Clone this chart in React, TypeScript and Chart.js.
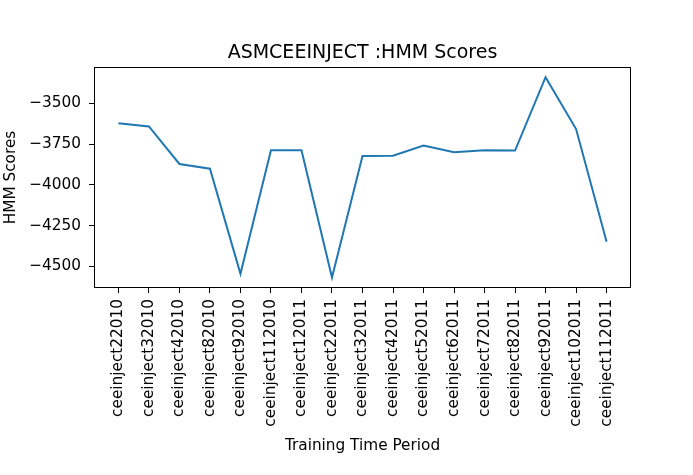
import React, { useEffect, useRef } from "react";
import { Chart, registerables } from "chart.js";

Chart.register(...registerables);

const categories = [
  "ceeinject22010", "ceeinject32010", "ceeinject42010", "ceeinject82010", "ceeinject92010",
  "ceeinject112010", "ceeinject12011", "ceeinject22011", "ceeinject32011", "ceeinject42011",
  "ceeinject52011", "ceeinject62011", "ceeinject72011", "ceeinject82011", "ceeinject92011",
  "ceeinject102011", "ceeinject112011",
];
const scores = [
  -3623, -3642, -3872, -3901, -4545, -3788, -3788, -4568, -3823, -3821,
  -3759, -3800, -3788, -3790, -3340, -3658, -4348,
];
const yTicks = [-4500, -4250, -4000, -3750, -3500];
const titleText = "ASMCEEINJECT :HMM Scores";
const xTitle = "Training Time Period";
const yTitle = "HMM Scores";

const FONT = "'DejaVu Sans', sans-serif";

const framePlugin = {
  id: "frame",
  afterDatasetsDraw(chart: any) {
    const { ctx, chartArea } = chart;
    ctx.save();
    ctx.strokeStyle = "#000";
    ctx.lineWidth = 1;
    ctx.strokeRect(
      Math.round(chartArea.left) + 0.5,
      Math.round(chartArea.top) + 0.5,
      Math.round(chartArea.right - chartArea.left) - 1,
      Math.round(chartArea.bottom - chartArea.top) - 1
    );
    ctx.restore();
  },
};

const axesTitlePlugin = {
  id: "axesTitle",
  afterDraw(chart: any) {
    const { ctx, chartArea } = chart;
    ctx.save();
    ctx.fillStyle = "#000";
    ctx.font = `19px ${FONT}`;
    ctx.textAlign = "center";
    ctx.textBaseline = "alphabetic";
    ctx.fillText(titleText, (chartArea.left + chartArea.right) / 2, 58);
    ctx.restore();
  },
};

export default function App() {
  const ref = useRef<HTMLCanvasElement | null>(null);
  useEffect(() => {
    if (!ref.current) return;
    const chart = new Chart(ref.current, {
      type: "line",
      data: {
        datasets: [
          {
            data: categories.map((_, i) => ({ x: i, y: scores[i] })),
            borderColor: "#1f77b4",
            borderWidth: 2,
            pointRadius: 0,
            tension: 0,
            fill: false,
          },
        ],
      },
      plugins: [framePlugin, axesTitlePlugin],
      options: {
        responsive: false,
        animation: false,
        layout: { padding: { left: 0, right: 62, top: 67, bottom: 0 }, autoPadding: false },
        plugins: {
          legend: { display: false },
          tooltip: { enabled: false },
          title: { display: false },
        },
        scales: {
          x: {
            type: "linear",
            min: -0.8,
            max: 16.8,
            afterBuildTicks: (s: any) => {
              s.ticks = categories.map((_, i) => ({ value: i }));
            },
            afterFit: (s: any) => {
              s.height = 187;
            },
            border: { display: false },
            grid: { display: true, drawOnChartArea: false, drawTicks: true, tickLength: 5, color: "#000" },
            ticks: {
              autoSkip: false,
              minRotation: 90,
              maxRotation: 90,
              padding: 6,
              color: "#000",
              font: { family: FONT, size: 15.3 },
              callback: (v: any) => categories[Math.round(Number(v))] ?? "",
            },
            title: {
              display: true,
              text: xTitle,
              color: "#000",
              font: { family: FONT, size: 15.3 },
              padding: { top: 0, bottom: 20 },
            },
          },
          y: {
            type: "linear",
            min: -4632,
            max: -3278,
            afterBuildTicks: (s: any) => {
              s.ticks = yTicks.map((v) => ({ value: v }));
            },
            afterFit: (s: any) => {
              s.width = 94;
            },
            border: { display: false },
            grid: { display: true, drawOnChartArea: false, drawTicks: true, tickLength: 5, color: "#000" },
            ticks: {
              padding: 8,
              color: "#000",
              font: { family: FONT, size: 15.3 },
              callback: (v: any) => (Number(v) < 0 ? "\u2212" + Math.abs(Number(v)) : String(v)),
            },
            title: {
              display: true,
              text: yTitle,
              color: "#000",
              font: { family: FONT, size: 15.3 },
              padding: { top: 2, bottom: 0 },
            },
          },
        },
      },
    } as any);
    return () => chart.destroy();
  }, []);
  return (
    <div style={{ position: "fixed", left: 0, top: 0, width: 693, height: 475, background: "#fff" }}>
      <canvas ref={ref} width={693} height={475} style={{ display: "block" }} />
    </div>
  );
}
